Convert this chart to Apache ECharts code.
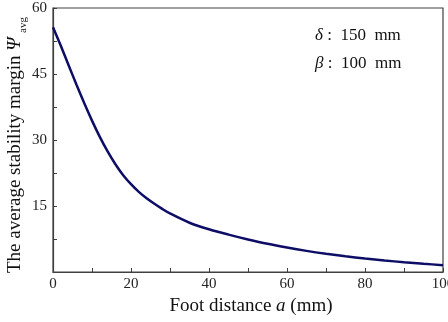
<!DOCTYPE html>
<html><head><meta charset="utf-8">
<script src="https://cdn.jsdelivr.net/npm/echarts@6/dist/echarts.min.js"></script>
<style>html,body{margin:0;padding:0;background:#fff}#c{width:448px;height:322px}</style>
</head><body><div id="c"></div>
<script>
var footDistance = [0,2,4,6,8,10,12,14,16,18,20,22,24,26,28,30,35,40,45,50,55,60,65,70,75,80,85,90,95,100];
var stabilityMargin = [55.6,51.4,47.0,42.6,38.4,34.4,30.7,27.4,24.5,22.0,19.95,18.2,16.75,15.5,14.35,13.3,11.2,9.7,8.5,7.4,6.4,5.55,4.8,4.15,3.58,3.07,2.62,2.22,1.87,1.56];
var xTicks = [0,20,40,60,80,100];
var yTicks = [0,15,30,45,60];
var yTitle = 'The average stability margin';
var yTitleSymbol = 'Ψ';
var yTitleSub = 'avg';
var annotations = [['δ',' :  150  mm'],['β',' :  100  mm']];

var font = 'Liberation Serif';
var axisCol = '#404040';
var chart = echarts.init(document.getElementById('c'));
var data = footDistance.map(function(x,i){return [x, stabilityMargin[i]];});
var graphics = annotations.map(function(a,i){
  return {type:'text',left:315,top:27+i*28,style:{
    text:'{g|'+a[0]+'}{t|'+a[1]+'}',
    rich:{g:{fontFamily:font,fontSize:17,fontStyle:'italic',fill:'#111'},t:{fontFamily:font,fontSize:17,fill:'#111'}}}};
});
graphics.push({type:'text',x:15,y:273,rotation:Math.PI/2,style:{
  text:'{n|'+yTitle+' }{p|'+yTitleSymbol+'}',
  textAlign:'left',verticalAlign:'middle',
  rich:{n:{fontFamily:font,fontSize:19,fill:'#111'},p:{fontFamily:font,fontSize:19,fontStyle:'italic',fill:'#111'}}}});
graphics.push({type:'text',x:23,y:33,rotation:Math.PI/2,style:{
  text:yTitleSub,textAlign:'left',verticalAlign:'middle',fontFamily:font,fontSize:11,fill:'#111'}});
chart.setOption({
  animation:false,
  grid:{left:53,right:5,top:8,bottom:50,outerBoundsMode:'none',containLabel:false,show:true,borderColor:axisCol,borderWidth:1.2},
  xAxis:{type:'value',min:xTicks[0],max:xTicks[xTicks.length-1],interval:20,
    axisLine:{lineStyle:{color:axisCol,width:1.2}},
    axisTick:{inside:true,length:4,lineStyle:{color:axisCol}},
    minorTick:{show:true,splitNumber:2,length:4,lineStyle:{color:axisCol}},
    splitLine:{show:false},
    axisLabel:{fontFamily:font,fontSize:15,color:'#222',margin:5,showMaxLabel:true},
    name:'{n|Foot distance }{i|a}{n| (mm)}',nameLocation:'middle',nameGap:23,
    nameTextStyle:{padding:[0,0,0,6],rich:{n:{fontFamily:font,fontSize:19,color:'#111'},i:{fontFamily:font,fontSize:19,fontStyle:'italic',color:'#111'}}}
  },
  yAxis:{type:'value',min:yTicks[0],max:yTicks[yTicks.length-1],interval:15,
    axisLine:{show:true,lineStyle:{color:axisCol,width:1.2}},
    axisTick:{inside:true,length:4,lineStyle:{color:axisCol}},
    minorTick:{show:true,splitNumber:2,length:4,lineStyle:{color:axisCol}},
    splitLine:{show:false},
    axisLabel:{fontFamily:font,fontSize:15,color:'#222',margin:6,formatter:function(v){return v===0?'':v;}}
  },
  series:[{type:'line',data:data,smooth:0.3,showSymbol:false,
    lineStyle:{color:'#0d0d66',width:2.5}}],
  graphic:graphics
});
</script></body></html>
